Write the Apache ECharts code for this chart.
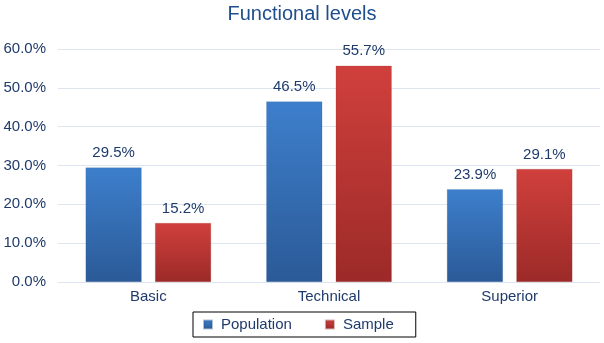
<!DOCTYPE html>
<html lang="en">

<head>
    <meta charset="UTF-8">
    <title>Functional levels</title>
</head>

<body style="margin:0">
    <div id="main" style="width: 604px; height:343px"></div>
    <script src="https://cdn.jsdelivr.net/npm/echarts@6/dist/echarts.min.js"></script>
    <script type="text/javascript">
        var categories = ['Basic', 'Technical', 'Superior'];
        var population = [29.5, 46.5, 23.9];
        var sample = [15.2, 55.7, 29.1];
        var textColor = '#1f3b6b';

        var myChart = echarts.init(document.getElementById('main'));

        function grad(top, bottom) {
            return new echarts.graphic.LinearGradient(0, 0, 0, 1, [{
                offset: 0,
                color: top
            }, {
                offset: 1,
                color: bottom
            }]);
        }

        var labelOpt = {
            show: true,
            position: 'top',
            distance: 7,
            color: textColor,
            fontSize: 15,
            fontFamily: 'Liberation Sans',
            formatter: function (p) { return p.value.toFixed(1) + '%'; }
        };

        var option = {
            textStyle: { fontFamily: 'Liberation Sans' },
            title: {
                text: 'Functional levels',
                left: 'center',
                top: -1,
                textStyle: {
                    color: '#1f4e8c',
                    fontSize: 20,
                    fontWeight: 'normal',
                    fontFamily: 'Liberation Sans'
                }
            },
            grid: {
                left: 58,
                right: 4,
                top: 49,
                bottom: 61
            },
            legend: {
                left: 193,
                top: 312,
                padding: [5, 22, 5, 10],
                borderColor: '#000',
                borderWidth: 1,
                itemWidth: 8,
                itemHeight: 8,
                itemGap: 33,
                icon: 'rect',
                textStyle: {
                    color: textColor,
                    fontSize: 15,
                    padding: [0, 0, 0, 4]
                },
                data: ['Population', 'Sample']
            },
            xAxis: {
                type: 'category',
                data: categories,
                axisTick: { show: false },
                axisLine: { lineStyle: { color: '#dde6f0' } },
                axisLabel: { color: textColor, fontSize: 15, margin: 7 }
            },
            yAxis: {
                type: 'value',
                min: 0,
                max: 60,
                interval: 10,
                axisLabel: {
                    color: textColor,
                    fontSize: 15,
                    margin: 12,
                    formatter: function (v) { return v.toFixed(1) + '%'; }
                },
                splitLine: { lineStyle: { color: '#dde6f0' } }
            },
            series: [{
                name: 'Population',
                type: 'bar',
                data: population,
                barWidth: 56,
                barGap: '24%',
                itemStyle: {
                    color: grad('#3d7fcc', '#2b5a97'),
                    borderColor: 'rgba(40,80,140,0.35)',
                    borderWidth: 0.5
                },
                label: labelOpt
            }, {
                name: 'Sample',
                type: 'bar',
                data: sample,
                barWidth: 56,
                itemStyle: {
                    color: grad('#d0403c', '#9c2a28'),
                    borderColor: 'rgba(140,40,40,0.35)',
                    borderWidth: 0.5
                },
                label: labelOpt
            }]
        };
        myChart.setOption(option);
    </script>

</body>

</html>
